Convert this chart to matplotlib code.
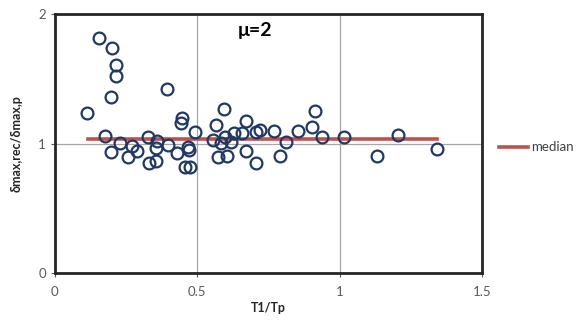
import matplotlib.pyplot as plt

plt.rcParams['font.family'] = ['Lato', 'DejaVu Sans']

# period ratio T1/Tp and normalised peak displacement for mu = 2
t_ratio = [0.112, 0.155, 0.200, 0.214, 0.214, 0.197, 0.393, 0.446, 0.443, 0.492,
           0.176, 0.197, 0.228, 0.256, 0.270, 0.288, 0.327, 0.358, 0.355, 0.330,
           0.355, 0.397, 0.429, 0.467, 0.470, 0.457, 0.474, 0.594, 0.566, 0.555,
           0.583, 0.597, 0.618, 0.629, 0.657, 0.671, 0.573, 0.604, 0.671, 0.706,
           0.706, 0.720, 0.769, 0.811, 0.790, 0.854, 0.903, 0.913, 0.938, 1.015,
           1.131, 1.205, 1.342]
disp_ratio = [1.236, 1.815, 1.737, 1.606, 1.521, 1.359, 1.421, 1.197, 1.158, 1.089,
              1.058, 0.934, 1.004, 0.896, 0.981, 0.942, 1.050, 1.019, 0.965, 0.849,
              0.865, 0.988, 0.927, 0.973, 0.950, 0.819, 0.819, 1.266, 1.143, 1.027,
              1.004, 1.050, 1.012, 1.081, 1.081, 1.174, 0.896, 0.903, 0.942, 0.849,
              1.089, 1.104, 1.097, 1.012, 0.903, 1.097, 1.127, 1.251, 1.050, 1.050,
              0.903, 1.066, 0.958]
median_value = 1.035
median_span = [0.116, 1.342]

fig = plt.figure(figsize=(5.78, 3.27), dpi=100)
ax = fig.add_axes([0.095, 0.165, 0.739, 0.792])

ax.plot(median_span, [median_value, median_value], color='#C0504D', lw=2.6,
        label='median', zorder=2)
ax.plot(t_ratio, disp_ratio, 'o', ms=8.5, mfc='none', mec='#1F3864', mew=1.6,
        zorder=3)

ax.set_xlim(0, 1.5)
ax.set_ylim(0, 2)
ax.set_xticks([0, 0.5, 1, 1.5])
ax.set_xticklabels(['0', '0.5', '1', '1.5'])
ax.set_yticks([0, 1, 2])
ax.grid(True, color='#A6A6A6', lw=0.9)
ax.set_axisbelow(True)
for s in ax.spines.values():
    s.set_color('#262626')
    s.set_linewidth(2)
ax.tick_params(colors='#595959', labelsize=9.5, length=3, width=0.8)
ax.tick_params(axis='x', pad=6)

ax.set_xlabel('T1/Tp', fontsize=9, fontweight='bold', color='#262626', labelpad=3)
ax.set_ylabel('δmax,rec/δmax,p', fontsize=9, fontweight='bold', color='#262626',
              labelpad=11)
ax.text(0.468, 0.935, 'μ=2', transform=ax.transAxes, ha='center', va='center',
        fontsize=14, fontweight='bold', color='black')

fig.legend(loc='center left', bbox_to_anchor=(0.843, 0.55), frameon=False,
           fontsize=9.5, handlelength=2.2, handletextpad=0.2, labelcolor='#404040')

fig.savefig('out.png', dpi=100)
